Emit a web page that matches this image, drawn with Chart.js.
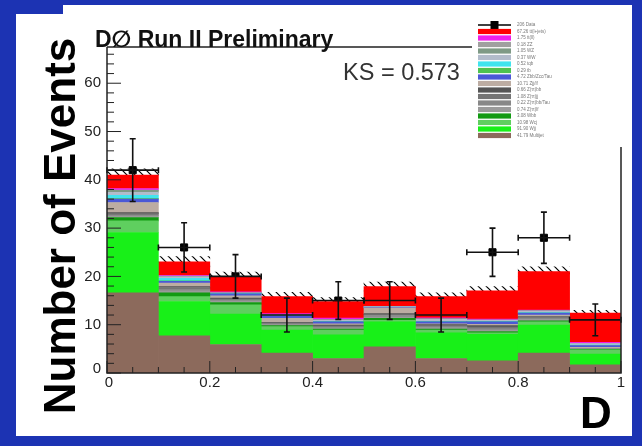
<!DOCTYPE html>
<html>
<head>
<meta charset="utf-8">
<script src="https://cdn.jsdelivr.net/npm/chart.js@4"></script>
<style>
  html, body { margin: 0; padding: 0; background: #1c33b3; }
  #wrap { width: 642px; height: 446px; position: relative; }
</style>
</head>
<body>
<div id="wrap"><canvas id="dChart"></canvas></div>
<script>
// Binning of the discriminant D
const binCenters = [0.05, 0.15, 0.25, 0.35, 0.45, 0.55, 0.65, 0.75, 0.85, 0.95];
const xTickValues = [0, 0.2, 0.4, 0.6, 0.8, 1];
const xTickLabels = ['0', '0.2', '0.4', '0.6', '0.8', '1'];
const yTickValues = [0, 10, 20, 30, 40, 50, 60];
const yTickLabels = ['0', '10', '20', '30', '40', '50', '60'];

// Observed data
const dataCounts = [42, 26, 20, 12, 15, 15, 12, 25, 28, 11];
const dataErrors = [6.5, 5.1, 4.5, 3.5, 3.9, 3.9, 3.5, 5.0, 5.3, 3.3];

// Background components (bottom of the stack first)
const multijet = [16.6, 7.7, 5.9, 4.1, 3.0, 5.4, 3.0, 2.5, 4.1, 1.7];
const wjj      = [12.5, 7.1, 6.3, 4.8, 4.9, 5.2, 5.3, 5.5, 5.8, 2.2];
const wcj      = [2.4, 1.0, 1.9, 0.7, 1.0, 0.3, 0.6, 0.3, 0.7, 0.9];
const wbb      = [0.7, 0.8, 0.5, 0.2, 0.2, 0.4, 0.2, 0.3, 0.2, 0.1];
const zttLf    = [0.3, 0.4, 0.3, 0.2, 0.2, 0.3, 0.3, 0.3, 0.3, 0.1];
const zttHf    = [0.2, 0.3, 0.2, 0.2, 0.2, 0.3, 0.2, 0.3, 0.2, 0.05];
const zttJj    = [0.3, 0.4, 0.2, 0.2, 0.2, 0.2, 0.2, 0.3, 0.2, 0.05];
const zttBb    = [0.2, 0.2, 0.2, 0.1, 0.2, 0.2, 0.2, 0.3, 0.2, 0.0];
const zjj      = [2.1, 0.7, 0.5, 0.8, 0.3, 1.2, 0.2, 0.3, 0.3, 0.2];
const zbb      = [0.7, 0.4, 0.4, 0.5, 0.4, 0.1, 0.4, 0.5, 0.4, 0.4];
const tb       = [0.1, 0.1, 0, 0, 0, 0, 0, 0, 0, 0];
const tqb      = [0.7, 0.5, 0.1, 0.1, 0.1, 0.05, 0.1, 0.1, 0.1, 0.1];
const ww       = [0.6, 0.3, 0.05, 0.1, 0.2, 0.05, 0.4, 0.2, 0.3, 0.3];
const wz       = [0.4, 0.1, 0.05, 0.05, 0.1, 0, 0.1, 0.05, 0.05, 0.05];
const zz       = [0.1, 0.05, 0, 0.05, 0.05, 0, 0, 0, 0, 0];
const ttDil    = [0.3, 0.15, 0.2, 0.2, 0.3, 0.1, 0.2, 0.2, 0.2, 0.2];
const ttLj     = [2.8, 2.8, 3.1, 3.5, 3.45, 4.1, 4.4, 5.85, 7.95, 6.05];

// Systematic band half-width around the total
const uncertainty = [1.3, 1.1, 1.0, 0.9, 0.8, 0.9, 0.8, 0.9, 1.0, 0.6];

const components = [
    { label: '41.79 Multijet', values: multijet, color: '#8c6a5c' },
    { label: '91.90 Wjj', values: wjj, color: '#18f018' },
    { label: '10.98 Wcj', values: wcj, color: '#5fcf5f' },
    { label: '3.08 Wbb', values: wbb, color: '#139a13' },
    { label: '0.74 Z(\u03c4\u03c4)lf', values: zttLf, color: '#9a9a9a' },
    { label: '0.22 Z(\u03c4\u03c4)bb/Tau', values: zttHf, color: '#888888' },
    { label: '1.08 Z(\u03c4\u03c4)jj', values: zttJj, color: '#747474' },
    { label: '0.66 Z(\u03c4\u03c4)bb', values: zttBb, color: '#555555' },
    { label: '10.71 Zjj/lf', values: zjj, color: '#bcaca2' },
    { label: '4.72 Zbb/Zcc/Tau', values: zbb, color: '#4b58d6' },
    { label: '0.29 tb', values: tb, color: '#4fc24f' },
    { label: '0.52 tqb', values: tqb, color: '#40e4ee' },
    { label: '0.37 WW', values: ww, color: '#b2bccb' },
    { label: '1.05 WZ', values: wz, color: '#7f9a86' },
    { label: '0.18 ZZ', values: zz, color: '#a0a0a0' },
    { label: '1.75 tt(ll)', values: ttDil, color: '#ee1fe8' },
    { label: '67.26 tt(l+jets)', values: ttLj, color: '#ff0000' }
];

const totals = binCenters.map((_, i) => components.reduce((s, c) => s + c.values[i], 0));

// Hatch pattern for the uncertainty band
function hatchPattern() {
    const p = document.createElement('canvas');
    p.width = 8; p.height = 8;
    const g = p.getContext('2d');
    g.strokeStyle = '#000';
    g.lineWidth = 1.2;
    g.beginPath();
    g.moveTo(-1, -1); g.lineTo(9, 9);
    g.moveTo(-1, 7); g.lineTo(1, 9);
    g.moveTo(7, -1); g.lineTo(9, 1);
    g.stroke();
    return g.createPattern(p, 'repeat');
}

const datasets = components.map(c => ({
    label: c.label,
    data: binCenters.map((x, i) => ({ x: x, y: c.values[i] })),
    backgroundColor: c.color,
    borderWidth: 0,
    stack: 'mc',
    grouped: false,
    barPercentage: 1,
    categoryPercentage: 1
}));
datasets.push({
    label: 'band-base',
    data: binCenters.map((x, i) => ({ x: x, y: totals[i] - uncertainty[i] })),
    backgroundColor: 'rgba(0,0,0,0)',
    borderWidth: 0, stack: 'unc', grouped: false,
    barPercentage: 1, categoryPercentage: 1
});
datasets.push({
    label: 'band',
    data: binCenters.map((x, i) => ({ x: x, y: 2 * uncertainty[i] })),
    backgroundColor: hatchPattern(),
    borderWidth: 0, stack: 'unc', grouped: false,
    barPercentage: 1, categoryPercentage: 1
});
datasets.push({
    type: 'scatter',
    label: '206 Data',
    data: binCenters.map((x, i) => ({ x: x, y: dataCounts[i] })),
    backgroundColor: '#000',
    borderColor: '#000',
    pointStyle: 'rect',
    pointRadius: 5,
    stack: 'data'
});

const FONT = '"Liberation Sans", Arial, sans-serif';

const rootStyle = {
    id: 'rootStyle',
    beforeDraw(chart) {
        const c = chart.ctx;
        c.save();
        c.fillStyle = '#1c33b3';
        c.fillRect(0, 0, chart.width, chart.height);
        c.fillStyle = '#fff';
        c.fillRect(16, 14, 616, 422);
        c.fillRect(63, 5, 569, 10);
        c.restore();
    },
    afterDatasetsDraw(chart) {
        const c = chart.ctx;
        const xs = chart.scales.x, ys = chart.scales.y;
        const a = chart.chartArea;

        // error bars
        c.save();
        c.strokeStyle = '#111';
        c.lineWidth = 1.6;
        binCenters.forEach((x, i) => {
            const px = xs.getPixelForValue(x);
            const py = ys.getPixelForValue(dataCounts[i]);
            const pHi = ys.getPixelForValue(dataCounts[i] + dataErrors[i]);
            const pLo = ys.getPixelForValue(dataCounts[i] - dataErrors[i]);
            const pL = xs.getPixelForValue(x - 0.05);
            const pR = xs.getPixelForValue(x + 0.05);
            c.beginPath();
            c.moveTo(px, pHi); c.lineTo(px, pLo);
            c.moveTo(px - 3, pHi); c.lineTo(px + 3, pHi);
            c.moveTo(px - 3, pLo); c.lineTo(px + 3, pLo);
            c.moveTo(pL, py); c.lineTo(pR, py);
            c.moveTo(pL, py - 3); c.lineTo(pL, py + 3);
            c.moveTo(pR, py - 3); c.lineTo(pR, py + 3);
            c.stroke();
        });

        // frame
        c.strokeStyle = '#222';
        c.lineWidth = 1.5;
        c.beginPath();
        c.moveTo(a.left, a.top); c.lineTo(a.left, a.bottom); c.lineTo(a.right, a.bottom);
        c.lineTo(a.right, 147);
        c.moveTo(a.left, a.top); c.lineTo(472, a.top);
        c.stroke();

        // ticks (inside the frame)
        c.lineWidth = 1;
        c.beginPath();
        for (let v = 0; v <= 66; v += 2) {
            const py = ys.getPixelForValue(v);
            const len = v % 10 === 0 ? 14 : 7;
            c.moveTo(a.left, py); c.lineTo(a.left + len, py);
        }
        for (let k = 0; k <= 20; k++) {
            const px = xs.getPixelForValue(k * 0.05);
            const len = k % 4 === 0 ? 12 : 6;
            c.moveTo(px, a.bottom); c.lineTo(px, a.bottom - len);
        }
        c.stroke();

        // tick labels
        c.fillStyle = '#222';
        c.font = '15px ' + FONT;
        c.textAlign = 'right';
        c.textBaseline = 'middle';
        yTickValues.forEach((v, i) => {
            c.fillText(yTickLabels[i], a.left - 6, ys.getPixelForValue(v) - (v === 0 ? 4 : 0));
        });
        c.textAlign = 'center';
        c.textBaseline = 'top';
        xTickValues.forEach((v, i) => {
            c.fillText(xTickLabels[i], xs.getPixelForValue(v) + (v === 0 ? 2 : 0), a.bottom + 2);
        });

        // axis titles
        c.fillStyle = '#000';
        c.font = 'bold 44px ' + FONT;
        c.save();
        c.translate(75, 226);
        c.rotate(-Math.PI / 2);
        c.textAlign = 'center';
        c.textBaseline = 'alphabetic';
        c.fillText('Number of Events', 0, 0);
        c.restore();
        c.font = 'bold 44px ' + FONT;
        c.textAlign = 'center';
        c.textBaseline = 'alphabetic';
        c.fillText('D', 596, 428);

        // header texts
        c.fillStyle = '#111';
        c.font = 'bold 23px ' + FONT + ', "DejaVu Sans"';
        c.textAlign = 'left';
        c.fillText('D\u2205 Run II Preliminary', 95, 47);
        c.fillStyle = '#333';
        c.font = '23.5px ' + FONT;
        c.fillText('KS = 0.573', 343, 80);

        // legend
        const rows = [{ label: '206 Data', data: true }]
            .concat(components.slice().reverse().map(cp => ({ label: cp.label, color: cp.color })));
        const x0 = 478, sw = 33, y0 = 25, dy = 6.5;
        c.font = '4.5px ' + FONT;
        c.textBaseline = 'middle';
        rows.forEach((r, i) => {
            const y = y0 + i * dy;
            if (r.data) {
                c.strokeStyle = '#000';
                c.lineWidth = 1.5;
                c.beginPath(); c.moveTo(x0, y); c.lineTo(x0 + sw, y); c.stroke();
                c.fillStyle = '#000';
                c.fillRect(x0 + sw / 2 - 4, y - 4, 8, 8);
            } else {
                c.fillStyle = r.color;
                c.fillRect(x0, y - 2.6, sw, 5.2);
            }
            c.fillStyle = '#777';
            c.fillText(r.label, x0 + sw + 6, y);
        });
        c.restore();
    }
};

new Chart(document.getElementById('dChart').getContext('2d'), {
    type: 'bar',
    data: { datasets: datasets },
    options: {
        responsive: true,
        maintainAspectRatio: false,
        animation: false,
        layout: { padding: { left: 107, right: 21, top: 47, bottom: 73 } },
        plugins: { legend: { display: false }, tooltip: { enabled: false } },
        scales: {
            x: { type: 'linear', min: 0, max: 1, offset: false, display: false },
            y: { type: 'linear', min: 0, max: 67.5, stacked: true, display: false }
        }
    },
    plugins: [rootStyle]
});
</script>
</body>
</html>
